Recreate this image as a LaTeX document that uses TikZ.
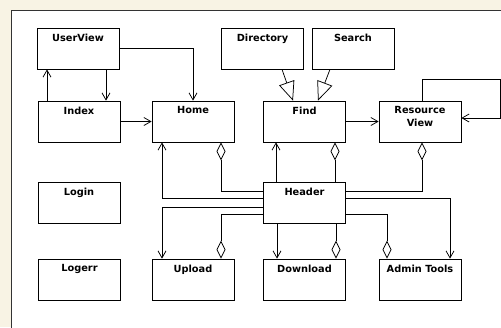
\documentclass[tikz,border=0pt]{standalone}
\usepackage{fontspec}
\setmainfont{DejaVu Sans}
\usepackage{xcolor}
\usepackage{tikz}
\usetikzlibrary{arrows.meta,calc}
\definecolor{pagebg}{RGB}{248,243,228}

\begin{document}
\begin{tikzpicture}[
  x=1pt, y=-1pt,
  font=\fontsize{9.8pt}{13pt}\selectfont\bfseries,
  cls/.style={draw, line width=0.75pt, minimum width=82pt, minimum height=41pt,
              inner sep=0pt, label={[ttl]north:#1}},
  ttl/.style={anchor=north, align=center, inner sep=0pt, yshift=-6pt},
  ar/.style={-{Straight Barb[length=7pt, width=8pt]}, line width=0.75pt},
  agg/.style={{Diamond[open, length=18pt, width=9pt]}-, line width=0.75pt},
  gen/.style={-{Triangle[open, length=19pt, width=16pt]}, line width=0.75pt}
]
\useasboundingbox (0,0) rectangle (501,327);
% ---- Background and frame ---------------------------------------------
\fill[pagebg] (0,0) rectangle (501,327);
\fill[white] (11,10) rectangle (502,328);
\draw[line width=1pt, black!80] (11,328) -- (11,10) -- (502,10);

% ---- Classes ----------------------------------------------------------
\node[cls=UserView]    (uv)   at (78,48.5)    {};
\node[cls=Directory]   (dir)  at (262.5,48.5) {};
\node[cls=Search]      (srch) at (353,48.5)   {};
\node[cls=Index]       (idx)  at (79,121.5)   {};
\node[cls=Home]        (home) at (193,121.5)  {};
\node[cls=Find]        (find) at (304.5,121.5){};
\node[cls={Resource\\View}] (rv) at (420,121.5) {};
\node[cls=Login]       (lgn)  at (79,203)     {};
\node[cls=Header]      (hdr)  at (304.5,203)  {};
\node[cls=Logerr]      (lge)  at (79.5,279.5) {};
\node[cls=Upload]      (upl)  at (193,279.5)  {};
\node[cls=Download]    (dl)   at (304.5,279.5){};
\node[cls=Admin Tools] (adm)  at (420,279.5)  {};

% ---- Navigation -------------------------------------------------------
\draw[ar] (uv.east) -| (home.north);
\draw[ar] ([xshift=27pt]idx.north |- uv.south) -- ([xshift=27pt]idx.north);
\draw[ar] ([xshift=-32pt]idx.north) -- ([xshift=-32pt]idx.north |- uv.south);
\draw[ar] (idx.east) -- (home.west);
\draw[ar] (find.east) -- (rv.west);
\draw[ar] ([xshift=2pt]rv.north) |- ([xshift=39pt, yshift=21pt]rv.north east)
  |- ([yshift=3.5pt]rv.east);

% ---- Generalization ---------------------------------------------------
\draw[gen] ([xshift=19.5pt]dir.south) -- ([xshift=-11.5pt]find.north);
\draw[gen] ([xshift=-23pt]srch.south) -- ([xshift=13.5pt]find.north);

% ---- Header links -----------------------------------------------------
\draw[ar]  ([yshift=5pt]hdr.west) -| ([xshift=-31pt]home.south);
\draw[agg] ([xshift=28pt]home.south) |- ([yshift=12pt]hdr.west);
\draw[ar]  ([xshift=-28.5pt]hdr.north) -- ([xshift=-28.5pt]find.south);
\draw[agg] ([xshift=30.5pt]find.south) -- ([xshift=30.5pt]hdr.north);
\draw[agg] ([xshift=2pt]rv.south) |- ([yshift=12pt]hdr.east);
\draw[ar]  ([yshift=-4pt]hdr.west) -| ([xshift=-31pt]upl.north);
\draw[agg] ([xshift=28pt]upl.north) |- ([yshift=-11pt]hdr.west);
\draw[ar]  ([xshift=-27.5pt]hdr.south) -- ([xshift=-27.5pt]dl.north);
\draw[agg] ([xshift=31.5pt]dl.north) -- ([xshift=31.5pt]hdr.south);
\draw[agg] ([xshift=-33pt]adm.north) |- ([yshift=-11pt]hdr.east);
\draw[ar]  ([yshift=5pt]hdr.east) -| ([xshift=30pt]adm.north);
\end{tikzpicture}
\end{document}
